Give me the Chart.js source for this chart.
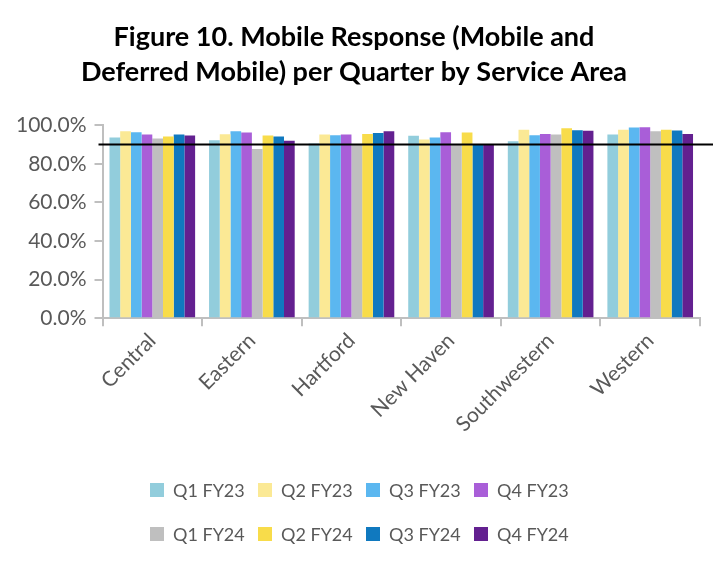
<!DOCTYPE html>
<html>
<head>
<meta charset="utf-8">
<script src="https://cdn.jsdelivr.net/npm/chart.js@4.4.1/dist/chart.umd.min.js"></script>
<style>
    body { margin: 0; background: #fff; font-family: Lato, sans-serif; }
    #wrap { position: relative; width: 720px; height: 571px; }
    #legend {
        position: absolute; left: 150px; top: 478px;
        display: grid; grid-template-columns: repeat(4, 108px); row-gap: 20px;
    }
    .legend-item { display: flex; align-items: center; font-size: 18px; color: #595959; height: 24px; white-space: nowrap; }
    .legend-box { width: 14px; height: 14px; margin-right: 9px; }
</style>
</head>
<body>
<div id="wrap">
    <canvas id="chart" width="720" height="571"></canvas>
    <div id="legend"></div>
</div>
<script>
// Data
const areas = ['Central', 'Eastern', 'Hartford', 'New Haven', 'Southwestern', 'Western'];
const quarters = ['Q1 FY23', 'Q2 FY23', 'Q3 FY23', 'Q4 FY23', 'Q1 FY24', 'Q2 FY24', 'Q3 FY24', 'Q4 FY24'];
const q1fy23 = [93.6, 92.2, 90.5, 94.5, 91.7, 95.2];
const q2fy23 = [96.9, 95.3, 95.2, 92.6, 97.6, 97.6];
const q3fy23 = [96.4, 96.9, 94.8, 93.6, 94.8, 98.8];
const q4fy23 = [95.2, 96.2, 95.2, 96.4, 95.5, 99.0];
const q1fy24 = [93.1, 87.7, 90.2, 90.2, 95.2, 96.9];
const q2fy24 = [94.1, 94.6, 95.5, 96.2, 98.4, 97.6];
const q3fy24 = [95.2, 94.1, 95.9, 90.3, 97.4, 97.3];
const q4fy24 = [94.6, 92.0, 96.9, 90.3, 97.1, 95.5];
const seriesValues = [q1fy23, q2fy23, q3fy23, q4fy23, q1fy24, q2fy24, q3fy24, q4fy24];
const yTicks = [0, 20, 40, 60, 80, 100];
const target = 90;

const colors = ['#92CDDC', '#FBE995', '#5BB7F0', '#A95ED8', '#BFBFBF', '#F8DC4A', '#1079BF', '#632090'];

// Target line plugin
const targetLine = {
    id: 'targetLine',
    afterDatasetsDraw(chart) {
        const { ctx, chartArea, scales } = chart;
        const y = scales.y.getPixelForValue(target);
        ctx.save();
        ctx.strokeStyle = '#000';
        ctx.lineWidth = 2;
        ctx.beginPath();
        ctx.moveTo(chartArea.left - 4, y);
        ctx.lineTo(chartArea.right + 13, y);
        ctx.stroke();
        ctx.restore();
    }
};

const chart = new Chart(document.getElementById('chart'), {
    type: 'bar',
    data: {
        labels: areas,
        datasets: quarters.map((q, i) => ({
            label: q,
            data: seriesValues[i],
            backgroundColor: colors[i],
            borderWidth: 0
        }))
    },
    options: {
        responsive: false,
        animation: false,
        categoryPercentage: 0.86,
        barPercentage: 1.0,
        layout: { padding: { left: 8, right: 20, top: 0, bottom: 132 } },
        plugins: {
            legend: { display: false },
            tooltip: { enabled: false },
            title: {
                display: true,
                text: ['Figure 10. Mobile Response (Mobile and', 'Deferred Mobile) per Quarter by Service Area'],
                font: { family: 'Lato', size: 27, weight: 'bold', lineHeight: 1.3 },
                color: '#000',
                padding: { top: 20, bottom: 35 }
            }
        },
        scales: {
            x: {
                grid: { display: true, drawOnChartArea: false, offset: true, tickLength: 8, color: '#BFBFBF', lineWidth: 2 },
                border: { color: '#BFBFBF', width: 2 },
                ticks: { minRotation: 45, maxRotation: 45, color: '#595959', font: { family: 'Lato', size: 21 }, padding: 2 }
            },
            y: {
                min: 0,
                max: 100,
                afterBuildTicks: axis => { axis.ticks = yTicks.map(v => ({ value: v })); },
                grid: { drawOnChartArea: false, tickLength: 8, color: '#BFBFBF', lineWidth: 2 },
                border: { color: '#BFBFBF', width: 2 },
                ticks: {
                    color: '#595959',
                    font: { family: 'Lato', size: 21 },
                    padding: 8,
                    callback: v => v.toFixed(1) + '%'
                }
            }
        }
    },
    plugins: [targetLine]
});

// HTML legend
const legendEl = document.getElementById('legend');
legendEl.innerHTML = chart.data.datasets.map(ds => `
    <div class="legend-item">
        <span class="legend-box" style="background:${ds.backgroundColor}"></span>${ds.label}
    </div>
`).join('');
</script>
</body>
</html>
